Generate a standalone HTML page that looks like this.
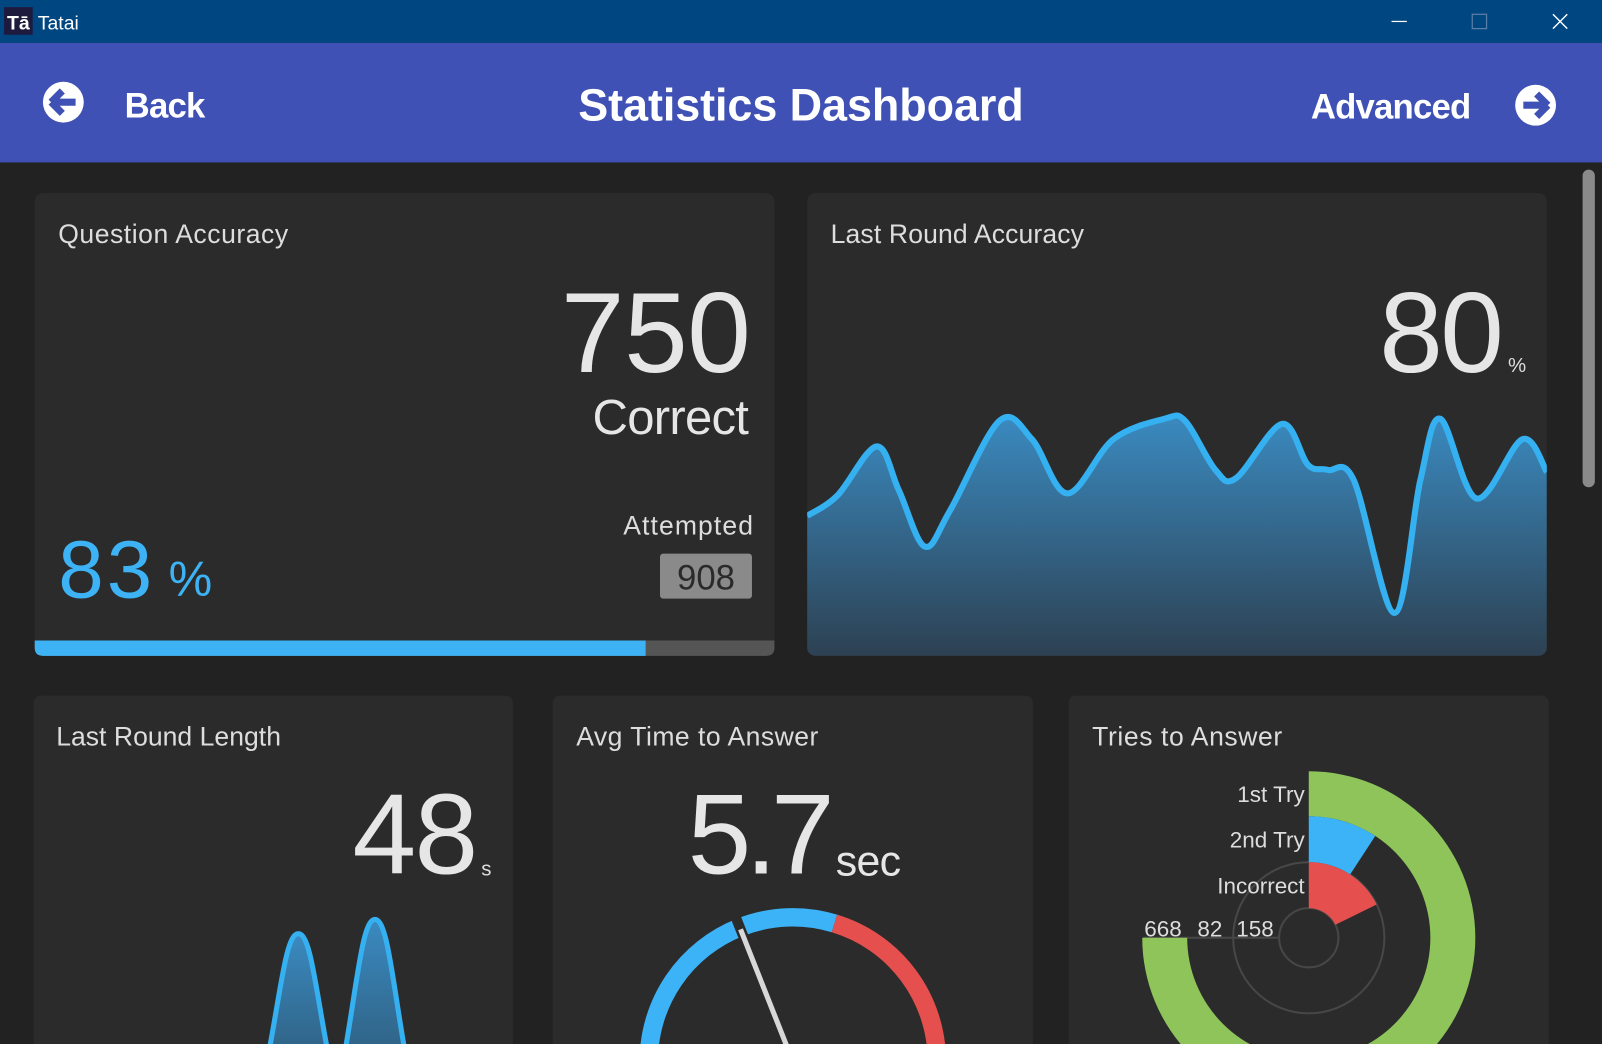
<!DOCTYPE html>
<html><head><meta charset="utf-8"><style>
html,body{margin:0;padding:0;background:#222;overflow:hidden;width:1602px;height:1044px}
svg{display:block}
text{font-family:"Liberation Sans",sans-serif}
</style></head><body>
<svg id="root" width="1602" height="1044" viewBox="0 0 1568 1022" preserveAspectRatio="none" xmlns="http://www.w3.org/2000/svg">
<defs>
<linearGradient id="areaGrad" x1="0" y1="0" x2="0" y2="1"><stop offset="0" stop-color="#3a8ac0"/><stop offset="1" stop-color="#2d4152"/></linearGradient>
<linearGradient id="spikeGrad" x1="0" y1="0" x2="0" y2="1"><stop offset="0" stop-color="#3a8ac0"/><stop offset="1" stop-color="#2f5f80"/></linearGradient>
<clipPath id="c2clip"><rect x="790" y="189" width="724" height="453" rx="8"/></clipPath>
<clipPath id="c3clip"><rect x="33" y="681" width="469" height="341"/></clipPath>
<clipPath id="c4clip"><rect x="541" y="681" width="470" height="341"/></clipPath>
<clipPath id="c5clip"><rect x="1046" y="681" width="470" height="341"/></clipPath>
</defs>
<rect x="0" y="0" width="1568" height="1022" fill="#222"/>
<g>
<rect x="0" y="0" width="1568" height="42" fill="#004680"/>
<rect x="4" y="7" width="28" height="27" fill="#1e1a3e"/>
<text x="18" y="29" font-size="19" font-weight="bold" fill="#fff" text-anchor="middle">Tā</text>
<text x="37" y="29" font-size="19" fill="#fff">Tatai</text>
<line x1="1362" y1="21" x2="1377" y2="21" stroke="#fff" stroke-width="1.2"/>
<rect x="1441" y="14" width="14" height="14" fill="none" stroke="#5a7fa8" stroke-width="1.2"/>
<g stroke="#fff" stroke-width="1.4"><line x1="1520" y1="14" x2="1534" y2="28"/><line x1="1534" y1="14" x2="1520" y2="28"/></g>
</g>
<g>
<rect x="0" y="42" width="1568" height="117" fill="#3f51b5"/>
<g>
<circle cx="62" cy="100" r="20" fill="#fff"/>
<path d="M50 100 L61 89 M50 100 L61 111 M50 100 L74 100" stroke="#3f51b5" stroke-width="7" fill="none"/>
<text x="122" y="115" font-size="34" font-weight="bold" fill="#fff" textLength="79">Back</text>
</g>
<text x="784" y="118" font-size="44" font-weight="bold" fill="#fff" text-anchor="middle" textLength="436">Statistics Dashboard</text>
<g>
<text x="1283" y="116" font-size="34" font-weight="bold" fill="#fff" textLength="157">Advanced</text>
<circle cx="1503" cy="103" r="20" fill="#fff"/>
<path d="M1515 103 L1504 92 M1515 103 L1504 114 M1515 103 L1491 103" stroke="#3f51b5" stroke-width="7" fill="none"/>
</g>
</g>
<rect x="1549" y="166" width="12" height="311" rx="6" fill="#8a8a8a"/>

<g>
<rect x="34" y="189" width="724" height="453" rx="8" fill="#2b2b2b"/>
<text x="57" y="238" font-size="26" fill="#ddd" textLength="225">Question Accuracy</text>
<text x="735" y="364" font-size="112" fill="#e6e6e6" text-anchor="end" textLength="186">750</text>
<text x="733" y="425" font-size="48" fill="#e6e6e6" text-anchor="end" textLength="153">Correct</text>
<text x="737" y="523" font-size="26" fill="#ddd" text-anchor="end" textLength="127">Attempted</text>
<rect x="646" y="542" width="90" height="44" rx="3" fill="#8a8a8a"/>
<text x="691" y="577" font-size="34" fill="#2a2a2a" text-anchor="middle">908</text>
<text x="57" y="585" font-size="80" fill="#3db3f5" textLength="92">83</text>
<text x="165" y="583" font-size="48" fill="#3db3f5">%</text>
<path d="M34 627 H758 V634 Q758 642 750 642 H42 Q34 642 34 634 Z" fill="#555"/>
<path id="progFill" fill="#3db3f5"/>
</g>

<g>
<rect x="790" y="189" width="724" height="453" rx="8" fill="#2b2b2b"/>
<text x="813" y="238" font-size="26" fill="#ddd" textLength="248">Last Round Accuracy</text>
<g id="areaChart" clip-path="url(#c2clip)"></g>
<text x="1472" y="364" font-size="112" fill="#e6e6e6" text-anchor="end" textLength="122">80</text>
<text x="1476" y="364" font-size="20" fill="#ddd">%</text>
</g>

<g>
<path d="M33 1022 V689 Q33 681 41 681 H494 Q502 681 502 689 V1022 Z" fill="#2b2b2b"/>
<text x="55" y="730" font-size="26" fill="#ddd" textLength="220">Last Round Length</text>
<text x="468" y="855" font-size="112" fill="#e6e6e6" text-anchor="end" textLength="123">48</text>
<text x="471" y="857" font-size="20" fill="#ddd">s</text>
<g id="spikeChart" clip-path="url(#c3clip)"></g>
</g>

<g>
<path d="M541 1022 V689 Q541 681 549 681 H1003 Q1011 681 1011 689 V1022 Z" fill="#2b2b2b"/>
<text x="564" y="730" font-size="26" fill="#ddd" textLength="237">Avg Time to Answer</text>
<text x="673" y="855" font-size="112" fill="#e6e6e6" textLength="144">5.7</text>
<text x="818" y="857" font-size="42" fill="#e6e6e6" textLength="64">sec</text>
<g id="gauge" clip-path="url(#c4clip)"></g>
</g>

<g>
<path d="M1046 1022 V689 Q1046 681 1054 681 H1508 Q1516 681 1516 689 V1022 Z" fill="#2b2b2b"/>
<text x="1069" y="730" font-size="26" fill="#ddd" textLength="186">Tries to Answer</text>
<g id="radial" clip-path="url(#c5clip)"></g>
</g>
</svg>
<script>
const NS='http://www.w3.org/2000/svg';
const accuracyPct = 83;
const roundQuestion = [0,4.1,9.4,12.4,15.9,19.3,26,30.4,35.2,41.4,48.3,51.1,55.2,58,64.2,67.7,70.4,73.9,79.4,82.9,85.6,90.5,96.7,100];
const roundAccuracy = [54.8,62.8,82,64.8,42.8,56.8,92,84.8,63.6,84.8,92.8,92,72.8,69.6,90.8,74.8,72.8,68.8,16.8,68.8,92.8,61.6,84.8,72];
const lengthBins = [0,1,2,3,4,5,6,7,8,9,10,11,12,13,14];
const lengthVals = [0,0,0,0,0,0,0,0,64,0,0,71,0,0,0];
const gaugeMax = 15;
const gaugeValue = 5.7;
const gaugeBands = [[0,5.7,'#3db3f7'],[5.7,8.9,'#3db3f7'],[8.9,15,'#e5504e']];
const tryLabels = ['1st Try','2nd Try','Incorrect'];
const tryValues = [668,82,158];
const tryColors = ['#8ec45a','#3db3f7','#e5504e'];

function mk(tag,attrs,parent){const e=document.createElementNS(NS,tag);for(const k in attrs)e.setAttribute(k,attrs[k]);parent.appendChild(e);return e;}

const pw = 724*accuracyPct/100*0.995;
const pf=document.getElementById('progFill');
pf.setAttribute('d',`M34 627 H${34+pw} V642 H42 Q34 642 34 634 Z`);

(function(){
 const g=document.getElementById('areaChart');
 const X=q=>790+q*7.24, Y=v=>642-v*2.5;
 const p=roundQuestion.map((q,i)=>[X(q),Y(roundAccuracy[i])]);
 let d=`M${p[0][0]} ${p[0][1]}`;
 for(let i=0;i<p.length-1;i++){
  const p0=p[Math.max(0,i-1)],p1=p[i],p2=p[i+1],p3=p[Math.min(p.length-1,i+2)];
  const c1=[p1[0]+(p2[0]-p0[0])/6,p1[1]+(p2[1]-p0[1])/6];
  const c2=[p2[0]-(p3[0]-p1[0])/6,p2[1]-(p3[1]-p1[1])/6];
  d+=` C${c1[0]} ${c1[1]} ${c2[0]} ${c2[1]} ${p2[0]} ${p2[1]}`;
 }
 const a=mk('path',{d:d+` L${p[p.length-1][0]} 642 L${p[0][0]} 642 Z`,fill:'url(#areaGrad)'},g);
 
 
 const l=mk('path',{d:d,fill:'none',stroke:'#35b0f0','stroke-width':6,'stroke-linejoin':'round'},g);
 
 
})();

(function(){
 const g=document.getElementById('spikeChart');
 const X=i=>92+i*25, base=1042, Y=v=>base-v*2;
 lengthBins.forEach((b,i)=>{
  const v=lengthVals[i]; if(!v) return;
  const x=X(b), top=Y(v), w=28+ v*0.05, h=base-top;
  const d=`M${x-w} ${base} C${x-w*0.55} ${base-h*0.55} ${x-w*0.4} ${top} ${x} ${top} C${x+w*0.4} ${top} ${x+w*0.55} ${base-h*0.55} ${x+w} ${base} Z`;
  const s=mk('path',{d,fill:'url(#spikeGrad)',stroke:'#35b0f0','stroke-width':5},g);
  
  
 });
})();

(function(){
 const g=document.getElementById('gauge');
 const cx=776,cy=1039,r=141;
 const ang=v=>Math.PI-(v/gaugeMax)*Math.PI;
 const pt=(a,rr)=>[cx+rr*Math.cos(a),cy-rr*Math.sin(a)];
 gaugeBands.forEach(b=>{
  const a0=ang(b[0]),a1=ang(b[1]);
  const p0=pt(a0,r),p1=pt(a1,r);
  const s=mk('path',{d:`M${p0[0]} ${p0[1]} A${r} ${r} 0 0 1 ${p1[0]} ${p1[1]}`,fill:'none',stroke:b[2],'stroke-width':18},g);
  
  
 });
 const an=ang(gaugeValue);
 const gap=mk('line',{x1:pt(an,r-12)[0],y1:pt(an,r-12)[1],x2:pt(an,r+12)[0],y2:pt(an,r+12)[1],stroke:'#2b2b2b','stroke-width':10},g);
 
 
 const n1=pt(an,r-2),n2=pt(an,-16);
 const n=mk('line',{x1:n1[0],y1:n1[1],x2:n2[0],y2:n2[1],stroke:'#d8d8d8','stroke-width':5},g);
 
 
})();

(function(){
 const g=document.getElementById('radial');
 const cx=1281,cy=918;
 const maxV=Math.max(...tryValues);
 const rings=[[119,163],[74,119],[29,74]];
 const pt=(a,rr)=>[cx+rr*Math.sin(a*Math.PI/180),cy-rr*Math.cos(a*Math.PI/180)];
 [29,74].forEach(rr=>{
  const c=mk('circle',{cx,cy,r:rr,fill:'none',stroke:'#474747','stroke-width':2},g);
  
  
 });
 const ln=mk('line',{x1:1119,y1:cy,x2:cx-29,y2:cy,stroke:'#474747','stroke-width':2},g);
 
 
 tryValues.forEach((v,i)=>{
  const a=v/maxV*270, [ri,ro]=rings[i], lg=a>180?1:0;
  const o0=pt(0,ro),o1=pt(a,ro),i1=pt(a,ri),i0=pt(0,ri);
  const s=mk('path',{d:`M${o0[0]} ${o0[1]} A${ro} ${ro} 0 ${lg} 1 ${o1[0]} ${o1[1]} L${i1[0]} ${i1[1]} A${ri} ${ri} 0 ${lg} 0 ${i0[0]} ${i0[1]} Z`,fill:tryColors[i]},g);
  
  
  const t=mk('text',{x:cx-4,y:cy-(ro+ri)/2+8,'font-size':22,fill:'#ddd','text-anchor':'end'},g);
  t.textContent=tryLabels[i];
  
  
  const vx=[1120,1172,1210][i];
  const tv=mk('text',{x:vx,y:cy-1,'font-size':22,fill:'#ddd'},g);
  tv.textContent=v;
  
  
 });
})();
</script>
</body></html>
